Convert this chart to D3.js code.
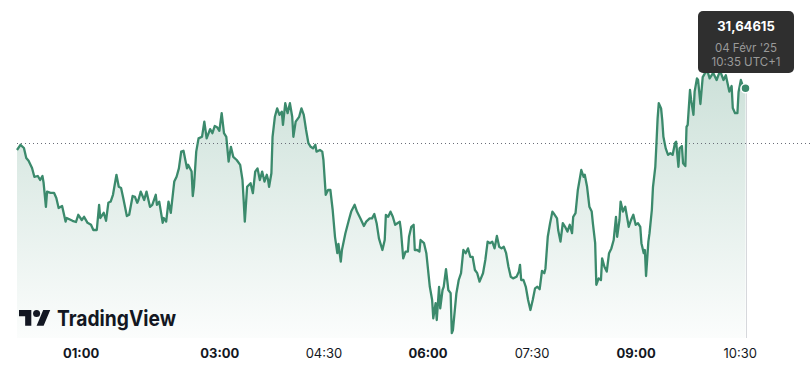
<!DOCTYPE html>
<html>
<head>
<meta charset="utf-8">
<script src="https://cdn.jsdelivr.net/npm/d3@7"></script>
<style>
  html, body { margin: 0; padding: 0; background: #fff; }
  svg { display: block; font-family: Inter, "Noto Sans", sans-serif; }
</style>
</head>
<body>
<div id="chart"></div>
<script>
// minutes since midnight (UTC+1)
const minutesOfDay = [
  5, 8, 11, 13, 15, 18, 20, 23, 25, 27, 28, 30, 31, 34, 37, 39, 41, 44, 47, 48,
  53, 56, 58, 61, 63, 66, 69, 71, 74, 76, 77, 80, 82, 84, 86, 88, 91, 93, 95, 97,
  100, 102, 105, 107, 109, 110, 112, 115, 117, 120, 122, 125, 126, 128, 131, 132, 134, 136, 138, 141,
  143, 145, 147, 149, 152, 153, 156, 157, 158, 160, 162, 165, 167, 169, 172, 174, 176, 178, 180, 182,
  184, 186, 188, 190, 192, 195, 198, 200, 201, 202, 204, 207, 209, 211, 213, 215, 217, 219, 221, 222,
  223, 225, 226, 228, 230, 232, 234, 235, 237, 239, 241, 243, 244, 246, 249, 251, 253, 255, 257, 259,
  261, 263, 264, 267, 269, 270, 272, 274, 276, 278, 280, 282, 283, 285, 286, 289, 292, 294, 297, 299,
  302, 305, 307, 310, 312, 314, 316, 318, 321, 323, 324, 326, 328, 330, 332, 334, 336, 337, 339, 341,
  343, 344, 346, 348, 349, 351, 353, 354, 357, 359, 362, 364, 365, 367, 368, 370, 371, 373, 374, 376,
  378, 380, 381, 382, 385, 387, 389, 391, 393, 395, 397, 399, 401, 403, 405, 408, 410, 412, 414, 416,
  418, 420, 422, 424, 426, 428, 430, 432, 434, 437, 439, 440, 441, 443, 445, 447, 449, 451, 453, 455,
  457, 459, 461, 462, 464, 466, 468, 469, 472, 473, 475, 477, 479, 481, 483, 485, 486, 488, 490, 492,
  493, 495, 496, 498, 500, 502, 503, 505, 506, 508, 510, 511, 513, 515, 517, 519, 521, 523, 524, 526,
  527, 529, 531, 533, 534, 536, 538, 540, 542, 544, 545, 547, 548, 549, 551, 552, 554, 555, 557, 558,
  559, 560, 562, 563, 564, 566, 568, 570, 572, 574, 575, 577, 578, 580, 581, 583, 584, 585, 587, 588,
  590, 591, 593, 594, 596, 598, 600, 602, 604, 607, 610, 613, 616, 618, 621, 623, 624, 626, 628, 629,
  631, 633, 635
];

const prices = [
  31.492, 31.505, 31.497, 31.472, 31.465, 31.447, 31.425, 31.427, 31.417, 31.427, 31.410, 31.350, 31.388, 31.385, 31.385, 31.372, 31.347, 31.352, 31.313, 31.322,
  31.315, 31.312, 31.330, 31.317, 31.325, 31.310, 31.305, 31.292, 31.292, 31.355, 31.322, 31.335, 31.315, 31.360, 31.363, 31.380, 31.430, 31.400, 31.397, 31.370,
  31.327, 31.330, 31.377, 31.375, 31.360, 31.367, 31.388, 31.367, 31.388, 31.350, 31.355, 31.380, 31.355, 31.363, 31.310, 31.322, 31.313, 31.363, 31.335, 31.413,
  31.425, 31.446, 31.488, 31.490, 31.446, 31.455, 31.438, 31.377, 31.400, 31.488, 31.521, 31.525, 31.563, 31.521, 31.544, 31.534, 31.552, 31.549, 31.540, 31.584,
  31.534, 31.525, 31.463, 31.500, 31.475, 31.467, 31.455, 31.417, 31.367, 31.313, 31.400, 31.409, 31.384, 31.438, 31.446, 31.417, 31.438, 31.413, 31.430, 31.419,
  31.400, 31.434, 31.525, 31.575, 31.596, 31.580, 31.588, 31.555, 31.609, 31.584, 31.609, 31.575, 31.525, 31.563, 31.575, 31.596, 31.580, 31.542, 31.509, 31.500,
  31.496, 31.505, 31.488, 31.492, 31.488, 31.467, 31.380, 31.392, 31.392, 31.342, 31.275, 31.234, 31.257, 31.213, 31.242, 31.284, 31.317, 31.338, 31.355, 31.338,
  31.321, 31.302, 31.313, 31.321, 31.321, 31.332, 31.309, 31.271, 31.242, 31.267, 31.330, 31.325, 31.338, 31.325, 31.305, 31.309, 31.313, 31.292, 31.221, 31.238,
  31.238, 31.275, 31.300, 31.305, 31.242, 31.242, 31.238, 31.267, 31.259, 31.234, 31.150, 31.117, 31.071, 31.109, 31.067, 31.150, 31.096, 31.142, 31.150, 31.194,
  31.142, 31.134, 31.034, 31.042, 31.134, 31.167, 31.184, 31.242, 31.234, 31.246, 31.225, 31.225, 31.192, 31.184, 31.163, 31.184, 31.217, 31.263, 31.259, 31.263,
  31.246, 31.277, 31.250, 31.246, 31.250, 31.234, 31.200, 31.175, 31.171, 31.175, 31.188, 31.205, 31.167, 31.167, 31.150, 31.117, 31.092, 31.117, 31.146, 31.150,
  31.144, 31.190, 31.184, 31.196, 31.275, 31.309, 31.338, 31.334, 31.321, 31.292, 31.263, 31.309, 31.300, 31.288, 31.305, 31.284, 31.325, 31.334, 31.392, 31.425,
  31.442, 31.425, 31.430, 31.400, 31.350, 31.338, 31.309, 31.259, 31.155, 31.171, 31.167, 31.221, 31.200, 31.188, 31.234, 31.246, 31.267, 31.325, 31.275, 31.317,
  31.363, 31.338, 31.350, 31.317, 31.300, 31.317, 31.330, 31.305, 31.309, 31.300, 31.259, 31.234, 31.242, 31.177, 31.263, 31.284, 31.342, 31.400, 31.450, 31.509,
  31.571, 31.609, 31.596, 31.567, 31.525, 31.496, 31.480, 31.484, 31.480, 31.509, 31.513, 31.450, 31.496, 31.502, 31.459, 31.452, 31.550, 31.555, 31.642, 31.617,
  31.580, 31.638, 31.671, 31.667, 31.607, 31.674, 31.684, 31.690, 31.671, 31.685, 31.667, 31.690, 31.667, 31.679, 31.638, 31.652, 31.597, 31.584, 31.584, 31.637,
  31.667, 31.650, 31.64615
];

const prevClose = 31.5095;

const tickMinutes = [60, 180, 270, 360, 450, 540, 630];
const tickLabels = ["01:00", "03:00", "04:30", "06:00", "07:30", "09:00", "10:30"];
const boldLabels = ["01:00", "03:00", "06:00", "09:00"];

const lastValueText = "31,64615";
const lastDateText = "04 Févr '25";
const lastTimeText = "10:35 UTC+1";

const width = 812, height = 375;
const lineColor = "#3b8a6c";
const plotBottom = 338;

const data = minutesOfDay.map((m, i) => ({ m: m, v: prices[i] }));

const x = d3.scaleLinear().domain([5, 635]).range([17, 745.5]);
const y = d3.scaleLinear().domain([31.0, 31.7]).range([346.8, 66.8]);

const svg = d3.select("#chart").append("svg")
  .attr("width", width)
  .attr("height", height);

// gradient for the area
const defs = svg.append("defs");
const grad = defs.append("linearGradient")
  .attr("id", "areaGrad")
  .attr("gradientUnits", "userSpaceOnUse")
  .attr("x1", 0).attr("y1", 70)
  .attr("x2", 0).attr("y2", plotBottom);
grad.append("stop").attr("offset", "0%").attr("stop-color", lineColor).attr("stop-opacity", 0.26);
grad.append("stop").attr("offset", "100%").attr("stop-color", lineColor).attr("stop-opacity", 0.02);

const area = d3.area()
  .x(d => x(d.m))
  .y0(plotBottom)
  .y1(d => y(d.v));

const line = d3.line()
  .x(d => x(d.m))
  .y(d => y(d.v));

svg.append("path")
  .datum(data)
  .attr("d", area)
  .attr("fill", "url(#areaGrad)");

// previous close, dotted
svg.append("line")
  .attr("x1", 17).attr("x2", width)
  .attr("y1", Math.round(y(prevClose)) + 0.5)
  .attr("y2", Math.round(y(prevClose)) + 0.5)
  .attr("stroke", "#6a6d78")
  .attr("stroke-width", 1)
  .attr("stroke-dasharray", "1,3");

// vertical marker at the last point
const last = data[data.length - 1];
svg.append("line")
  .attr("x1", Math.round(x(last.m)) + 0.5).attr("x2", Math.round(x(last.m)) + 0.5)
  .attr("y1", y(last.v)).attr("y2", plotBottom)
  .attr("stroke", "#d6d8dc")
  .attr("stroke-width", 1);

svg.append("path")
  .datum(data)
  .attr("d", line)
  .attr("fill", "none")
  .attr("stroke", lineColor)
  .attr("stroke-width", 2.3)
  .attr("stroke-linejoin", "round");

svg.append("circle")
  .attr("cx", x(last.m))
  .attr("cy", y(last.v))
  .attr("r", 4.5)
  .attr("fill", lineColor)
  .attr("stroke", "#fff")
  .attr("stroke-width", 1.5);

// x axis
const xAxis = d3.axisBottom(x)
  .tickValues(tickMinutes)
  .tickFormat((d, i) => tickLabels[i])
  .tickSize(0)
  .tickPadding(0);

const gx = svg.append("g")
  .attr("transform", "translate(0,348.5)")
  .call(xAxis);
gx.select(".domain").remove();
gx.selectAll("text")
  .attr("fill", "#131722")
  .style("font-family", "Inter, 'Noto Sans', sans-serif")
  .style("font-size", "13px")
  .style("font-weight", d => boldLabels.includes(tickLabels[tickMinutes.indexOf(d)]) ? 700 : 400);

// TradingView logo
const logo = svg.append("g").attr("fill", "#131722");
logo.append("g")
  .attr("transform", "translate(19,306.5) scale(0.88)")
  .call(g => {
    g.append("path").attr("d", "M14 22H7V11H0V4h14v18zM28 22h-8l7.5-18h8L28 22z");
    g.append("circle").attr("cx", 20).attr("cy", 8).attr("r", 4);
  });
logo.append("text")
  .attr("x", 57)
  .attr("y", 326)
  .attr("textLength", 119)
  .attr("lengthAdjust", "spacingAndGlyphs")
  .style("font-size", "21.5px")
  .style("font-weight", 700)
  .text("TradingView");

// tooltip for the last point
const tip = svg.append("g");
tip.append("rect")
  .attr("x", 698).attr("y", 11)
  .attr("width", 96).attr("height", 62)
  .attr("rx", 5)
  .attr("fill", "#2f2f2f");
tip.append("text")
  .attr("x", 746).attr("y", 30.5)
  .attr("text-anchor", "middle")
  .attr("fill", "#fff")
  .style("font-size", "13px")
  .style("font-weight", 700)
  .text(lastValueText);
tip.append("text")
  .attr("x", 746).attr("y", 51.5)
  .attr("text-anchor", "middle")
  .attr("fill", "#9a9a9a")
  .style("font-size", "11.5px")
  .text(lastDateText);
tip.append("text")
  .attr("x", 746).attr("y", 65.5)
  .attr("text-anchor", "middle")
  .attr("fill", "#9a9a9a")
  .style("font-size", "11.5px")
  .text(lastTimeText);
</script>
</body>
</html>
